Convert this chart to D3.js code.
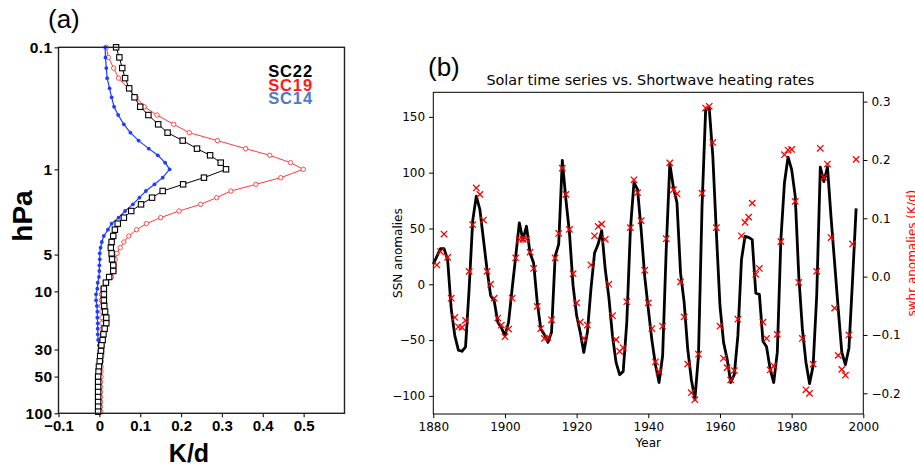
<!DOCTYPE html>
<html>
<head>
<meta charset="utf-8">
<script src="https://cdn.jsdelivr.net/npm/d3@7.9.0/dist/d3.min.js"></script>
<style>
  body { margin: 0; background: #fff; }
  svg { display: block; }
</style>
</head>
<body>
<svg id="chart" width="915" height="466"></svg>
<script>
// panel (a): heating rate profiles, pressure levels in hPa (top to bottom)
const plev = [0.100, 0.121, 0.148, 0.179, 0.217, 0.257, 0.307, 0.359, 0.428, 0.501, 0.582, 0.677, 0.768, 0.882, 1.0,
  1.171, 1.328, 1.506, 1.708, 1.938, 2.197, 2.491, 2.790, 3.125, 3.521, 3.944, 4.390, 4.885, 5.470, 6.127, 6.817,
  7.635, 8.496, 9.515, 10.59, 11.86, 13.20, 14.69, 16.45, 18.30, 20.25, 22.53, 25.07, 27.73, 30.86, 33.92, 37.50,
  41.46, 45.57, 50.09, 55.38, 60.87, 66.91, 73.54, 80.80, 88.23, 96.96];
const sc22 = [0.041, 0.049, 0.056, 0.063, 0.073, 0.086, 0.100, 0.120, 0.144, 0.167, 0.204, 0.239, 0.271, 0.297, 0.310,
  0.256, 0.205, 0.155, 0.129, 0.102, 0.078, 0.060, 0.045, 0.038, 0.034, 0.030, 0.028, 0.030, 0.031, 0.034, 0.034,
  0.024, 0.016, 0.011, 0.011, 0.011, 0.012, 0.014, 0.017, 0.017, 0.013, 0.010, 0.008, 0.005, 0.004, 0.002, 0.001,
  -0.001, -0.002, -0.003, -0.003, -0.003, -0.003, -0.003, -0.003, -0.003, -0.003];
const sc19 = [0.017, 0.022, 0.035, 0.047, 0.071, 0.090, 0.110, 0.141, 0.182, 0.220, 0.289, 0.358, 0.417, 0.468, 0.499,
  0.444, 0.383, 0.322, 0.287, 0.248, 0.195, 0.150, 0.115, 0.091, 0.072, 0.060, 0.051, 0.043, 0.039, 0.037, 0.036,
  0.030, 0.018, 0.008, 0.005, 0.005, 0.005, 0.006, 0.006, 0.006, 0.007, 0.007, 0.007, 0.007, 0.006, 0.006, 0.005,
  0.004, 0.004, 0.004, 0.003, 0.003, 0.003, 0.003, 0.003, 0.003, 0.003];
const sc14 = [0.014, 0.015, 0.017, 0.019, 0.025, 0.030, 0.036, 0.046, 0.060, 0.076, 0.096, 0.121, 0.143, 0.161, 0.172,
  0.155, 0.135, 0.114, 0.098, 0.082, 0.063, 0.047, 0.030, 0.021, 0.011, 0.006, 0.003, 0.001, 0.001, 0.000, 0.000,
  -0.001, -0.004, -0.005, -0.008, -0.008, -0.006, -0.005, -0.005, -0.004, -0.004, -0.004, -0.003, -0.001, 0.000, 0.000, 0.000,
  0.000, -0.001, -0.001, -0.001, -0.001, -0.001, -0.001, -0.001, -0.001, -0.001];
const presTicks = [0.1, 1, 5, 10, 30, 50, 100];
const rateTicks = [-0.1, 0, 0.1, 0.2, 0.3, 0.4, 0.5];
const legendNames = ['SC22', 'SC19', 'SC14'];

// panel (b): annual SSN anomalies and shortwave heating rate anomalies
const ssnYears = d3.range(1880, 1999);
const ssn = [18, 25, 32, 32, 22, -22, -46, -59, -60, -56,
  -4, 57, 79, 67, 40, 13, -10, -15, -34, -39,
  -46, -34, -4, 25, 55, 40, 52, 28, 19, -16,
  -40, -45, -52, -43, 25, 36, 111, 76, 46, -1,
  -28, -43, -61, -43, -4, 28, 36, 48, 13, -12,
  -46, -70, -81, -78, -34, 49, 91, 85, 49, 7,
  -22, -50, -72, -88, -64, 31, 108, 87, 73, 10,
  -16, -58, -85, -103, -64, 70, 156, 158, 115, 46,
  -19, -52, -67, -88, -81, -46, 22, 43, 42, 40,
  -8, -9, -51, -56, -76, -88, -61, 40, 91, 114,
  103, 79, 7, -40, -70, -89, -73, -10, 105, 92,
  105, 60, 19, -22, -61, -72, -57, 4, 68];
const swhrYears = d3.range(1881, 1999);
const swhr = [0.020, 0.043, 0.073, 0.033, -0.037, -0.070, -0.086, -0.087, -0.075,
  0.009, 0.089, 0.152, 0.141, 0.097, 0.009, -0.013, -0.037, -0.071, -0.083,
  -0.103, -0.090, -0.037, 0.032, 0.064, 0.064, 0.064, 0.042, 0.014, -0.051,
  -0.089, -0.106, -0.104, -0.074, 0.032, 0.074, 0.186, 0.141, 0.081, 0.005,
  -0.045, -0.078, -0.106, -0.083, 0.020, 0.070, 0.086, 0.090, 0.064, -0.013,
  -0.067, -0.108, -0.128, -0.122, -0.043, 0.084, 0.166, 0.144, 0.096, 0.011,
  -0.045, -0.089, -0.146, -0.163, -0.085, 0.065, 0.195, 0.149, 0.142, -0.009,
  -0.069, -0.150, -0.199, -0.211, -0.133, 0.143, 0.289, 0.292, 0.230, 0.084,
  -0.085, -0.140, -0.156, -0.177, -0.161, -0.073, 0.070, 0.093, 0.102, 0.126,
  0.004, 0.014, -0.078, -0.106, -0.160, -0.153, -0.099, 0.060, 0.209, 0.217,
  0.218, 0.129, -0.010, -0.106, -0.194, -0.200, -0.150, 0.009, 0.220, 0.170,
  0.193, 0.067, -0.054, -0.135, -0.159, -0.169, -0.100, 0.056, 0.201];
const yearTicks = [1880, 1900, 1920, 1940, 1960, 1980, 2000];
const ssnTicks = [-100, -50, 0, 50, 100, 150];
const swhrTicks = [-0.2, -0.1, 0, 0.1, 0.2, 0.3];

const svg = d3.select('#chart');
const arial = '"Liberation Sans", Arial, Helvetica, sans-serif';
const dejavu = '"DejaVu Sans", sans-serif';

// ---------- panel (a) ----------
const A = { l: 58.5, r: 344.5, t: 47.3, b: 413.3 };
const xA = d3.scaleLinear().domain([-0.1, 0.6]).range([A.l, A.r]);
const yA = d3.scaleLog().domain([0.1, 100]).range([A.t, A.b]);
const pa = svg.append('g');

pa.append('g')
  .attr('transform', `translate(0,${A.b})`)
  .call(d3.axisBottom(xA).tickValues(rateTicks).tickSize(4).tickPadding(3)
    .tickFormat((d) => (d === 0 ? '0' : d3.format('.1f')(d))))
  .attr('font-family', arial).attr('font-size', 15).attr('font-weight', 'bold')
  .call((g) => g.select('.domain').remove())
  .call((g) => g.selectAll('line').attr('stroke', '#222').attr('stroke-width', 1.2));

pa.append('g')
  .attr('transform', `translate(${A.l},0)`)
  .call(d3.axisLeft(yA).tickValues(presTicks).tickSize(4).tickPadding(2)
    .tickFormat((d) => d))
  .attr('font-family', arial).attr('font-size', 15.5).attr('font-weight', 'bold')
  .attr('letter-spacing', 0.4)
  .call((g) => g.select('.domain').remove())
  .call((g) => g.selectAll('line').attr('stroke', '#222').attr('stroke-width', 1.2));

const profiles = [
  { vals: sc19, color: '#ff3b3b', kind: 'circle' },
  { vals: sc14, color: '#1e3cff', kind: 'dot' },
  { vals: sc22, color: '#000', kind: 'square' },
];

profiles.forEach((s) => {
  const pts = plev.map((p, i) => ({ p, v: s.vals[i] }));
  pa.append('path')
    .datum(pts)
    .attr('fill', 'none')
    .attr('stroke', s.color)
    .attr('stroke-width', s.kind === 'dot' ? 1.2 : 1)
    .attr('d', d3.line().x((d) => xA(d.v)).y((d) => yA(d.p)));

  const g = pa.append('g');
  if (s.kind === 'square') {
    g.selectAll('rect').data(pts).join('rect')
      .attr('x', (d) => xA(d.v) - 2.7).attr('y', (d) => yA(d.p) - 2.7)
      .attr('width', 5.4).attr('height', 5.4)
      .attr('fill', '#fff').attr('stroke', '#000').attr('stroke-width', 1.1);
  } else {
    g.selectAll('circle').data(pts).join('circle')
      .attr('cx', (d) => xA(d.v)).attr('cy', (d) => yA(d.p))
      .attr('r', s.kind === 'dot' ? 1.9 : 2.2)
      .attr('fill', s.kind === 'dot' ? s.color : '#fff')
      .attr('stroke', s.color).attr('stroke-width', s.kind === 'dot' ? 0 : 0.9);
  }
});

pa.append('rect')
  .attr('x', A.l).attr('y', A.t)
  .attr('width', A.r - A.l).attr('height', A.b - A.t)
  .attr('fill', 'none').attr('stroke', '#222').attr('stroke-width', 1.4);

const legendColors = ['#000', '#ff1a1a', '#4a7cc9'];
legendNames.forEach((name, i) => {
  pa.append('text')
    .attr('x', 313).attr('y', 77 + i * 13.5)
    .attr('text-anchor', 'end')
    .attr('font-family', arial).attr('font-size', 16.5).attr('font-weight', 'bold')
    .attr('letter-spacing', 0.9)
    .attr('fill', legendColors[i])
    .text(name);
});

pa.append('text').attr('x', 48).attr('y', 27.5)
  .attr('font-family', arial).attr('font-size', 26).text('(a)');
pa.append('text').attr('x', 189).attr('y', 462)
  .attr('text-anchor', 'middle')
  .attr('font-family', arial).attr('font-size', 25).attr('font-weight', 'bold')
  .text('K/d');
pa.append('text')
  .attr('transform', 'translate(32,216) rotate(-90)')
  .attr('text-anchor', 'middle')
  .attr('font-family', arial).attr('font-size', 28).attr('font-weight', 'bold')
  .text('hPa');

// ---------- panel (b) ----------
const B = { l: 433.3, r: 863.3, t: 92.3, b: 414 };
const xB = d3.scaleLinear().domain([1880, 2000]).range([B.l, B.r]);
const yB = d3.scaleLinear().domain([-116.2, 172]).range([B.b, B.t]);
const yB2 = d3.scaleLinear().domain([-0.2355, 0.316]).range([B.b, B.t]);
const pb = svg.append('g');

const styleAxis = (g) => {
  g.attr('font-family', dejavu).attr('font-size', 12);
  g.select('.domain').remove();
  g.selectAll('line').attr('stroke', '#000').attr('stroke-width', 1);
};

pb.append('g').attr('transform', `translate(0,${B.b})`)
  .call(d3.axisBottom(xB).tickValues(yearTicks).tickSize(4.2).tickPadding(4).tickFormat((d) => d))
  .call(styleAxis);
pb.append('g').attr('transform', `translate(${B.l},0)`)
  .call(d3.axisLeft(yB).tickValues(ssnTicks).tickSize(4.2).tickPadding(4).tickFormat(d3.format('d')))
  .call(styleAxis);
pb.append('g').attr('transform', `translate(${B.r},0)`)
  .call(d3.axisRight(yB2).tickValues(swhrTicks).tickSize(4.2).tickPadding(4).tickFormat(d3.format('.1f')))
  .call(styleAxis);

pb.append('path')
  .datum(ssnYears.map((y, i) => [y, ssn[i]]))
  .attr('fill', 'none').attr('stroke', '#000').attr('stroke-width', 2.8)
  .attr('stroke-linejoin', 'round')
  .attr('d', d3.line().x((d) => xB(d[0])).y((d) => yB(d[1])));

pb.append('g').selectAll('path')
  .data(swhrYears.map((y, i) => [y, swhr[i]]))
  .join('path')
  .attr('transform', (d) => `translate(${xB(d[0])},${yB2(d[1])})`)
  .attr('d', 'M-3.2,-3.2L3.2,3.2M-3.2,3.2L3.2,-3.2')
  .attr('stroke', '#ff0000').attr('stroke-width', 1.3).attr('fill', 'none');

pb.append('rect')
  .attr('x', B.l).attr('y', B.t)
  .attr('width', B.r - B.l).attr('height', B.b - B.t)
  .attr('fill', 'none').attr('stroke', '#000').attr('stroke-width', 1);

pb.append('text').attr('x', (B.l + B.r) / 2 + 2).attr('y', 84.5)
  .attr('text-anchor', 'middle')
  .attr('font-family', dejavu).attr('font-size', 14.4)
  .text('Solar time series vs. Shortwave heating rates');
pb.append('text').attr('x', (B.l + B.r) / 2).attr('y', 447)
  .attr('text-anchor', 'middle')
  .attr('font-family', dejavu).attr('font-size', 12)
  .text('Year');
pb.append('text')
  .attr('transform', `translate(402,${(B.t + B.b) / 2}) rotate(-90)`)
  .attr('text-anchor', 'middle')
  .attr('font-family', dejavu).attr('font-size', 12)
  .text('SSN anomalies');
pb.append('text')
  .attr('transform', `translate(916,${(B.t + B.b) / 2}) rotate(-90)`)
  .attr('text-anchor', 'middle')
  .attr('font-family', dejavu).attr('font-size', 12).attr('fill', '#ff0000')
  .text('swhr anomalies (K/d)');
pb.append('text').attr('x', 428).attr('y', 76)
  .attr('font-family', arial).attr('font-size', 26).text('(b)');
</script>
</body>
</html>
